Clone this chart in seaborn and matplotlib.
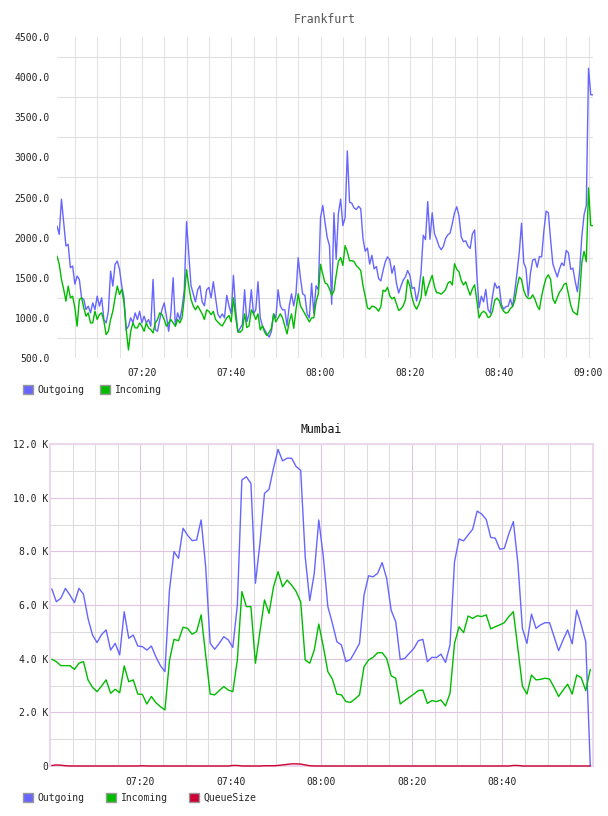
import pandas as pd
import matplotlib
matplotlib.use("Agg")
import matplotlib.pyplot as plt
import matplotlib.dates as mdates
from matplotlib.patches import Patch
from matplotlib.ticker import FixedLocator, FuncFormatter
import seaborn as sns

# Frankfurt: one sample every 30 s starting 07:01
fra_outgoing = [
    2146, 2040, 2479, 2190, 1896, 1917, 1625, 1646, 1420, 1521,
    1479, 1250, 1229, 1104, 1146, 1062, 1187, 1104, 1271, 1146,
    1250, 979, 937, 1083, 1583, 1396, 1667, 1708, 1604, 1396,
    1250, 854, 896, 1000, 940, 1062, 979, 1083, 937, 1021,
    937, 979, 896, 1479, 854, 833, 979, 1104, 1187, 1021,
    833, 1062, 1500, 896, 1062, 979, 1125, 1350, 2200, 1800,
    1400, 1300, 1200, 1350, 1400, 1200, 1150, 1350, 1380, 1250,
    1450, 1250, 1050, 1000, 1050, 1000, 1280, 1150, 1050, 1530,
    1100, 820, 870, 920, 1350, 950, 1050, 1350, 1050, 1100,
    1450, 1000, 900, 850, 800, 760, 830, 1050, 1000, 1350,
    1150, 1100, 1100, 900, 1150, 1300, 1150, 1300, 1750, 1500,
    1300, 1280, 1050, 1000, 1430, 1050, 1400, 1350,
    2250, 2400, 2190, 2000, 1900, 1170, 2310, 1730, 2300, 2480,
    2150, 2250, 3080, 2440, 2430, 2370, 2350, 2390, 2360, 1990,
    1830, 1870, 1670, 1780, 1610, 1640, 1490, 1460, 1590, 1700,
    1760, 1725, 1555, 1650, 1430, 1310, 1395, 1470, 1510, 1590,
    1530, 1365, 1380, 1210, 1335, 1565, 2030, 1975, 2450, 1980,
    2310, 2050, 1980, 1895, 1850, 1890, 1990, 2035, 2055, 2175,
    2310, 2385, 2270, 2010, 1950, 1960, 1895, 1865, 2045, 2095,
    1530, 1125, 1270, 1200, 1355, 1105, 1060, 1270, 1435, 1370,
    1395, 1165, 1110, 1140, 1145, 1235, 1140, 1340, 1565, 1820,
    2180, 1685, 1615, 1270, 1560, 1720, 1735, 1630, 1765, 1760,
    2080, 2330, 2310, 1980, 1675, 1590, 1510, 1610, 1685, 1650,
    1840, 1810, 1605, 1620, 1460, 1325, 1580, 2015, 2285, 2400,
    4110, 3780, 3780,
]
fra_incoming = [
    1771, 1667, 1479, 1354, 1208, 1396, 1250, 1270, 1125, 896,
    1229, 1250, 1125, 1021, 1062, 937, 937, 1083, 979, 1042,
    1062, 958, 792, 833, 979, 1083, 1250, 1396, 1292, 1354,
    1187, 850, 600, 833, 937, 875, 875, 937, 896, 833,
    937, 875, 854, 812, 937, 979, 1062, 1042, 979, 896,
    937, 979, 937, 896, 979, 937, 1000, 1250, 1600, 1400,
    1230, 1150, 1100, 1150, 1100, 1050, 980, 1100, 1080, 1040,
    1080, 980, 950, 920, 900, 950, 1000, 1030, 950, 1250,
    1000, 830, 820, 850, 1050, 880, 900, 1100, 1050, 980,
    1050, 850, 900, 820, 780, 820, 870, 1050, 950, 1000,
    1050, 1000, 900, 800, 950, 1050, 870, 1100, 1300, 1150,
    1100, 1050, 1000, 950, 1000, 1000, 1200, 1300,
    1667, 1545, 1437, 1420, 1362, 1283, 1333, 1530, 1704, 1750,
    1654, 1900, 1825, 1712, 1712, 1704, 1650, 1625, 1590, 1405,
    1271, 1125, 1108, 1146, 1140, 1120, 1083, 1140, 1345, 1330,
    1380, 1275, 1237, 1258, 1175, 1092, 1112, 1150, 1225, 1475,
    1400, 1250, 1158, 1108, 1167, 1250, 1512, 1275, 1375, 1458,
    1530, 1390, 1312, 1312, 1295, 1320, 1354, 1430, 1455, 1410,
    1675, 1604, 1575, 1465, 1410, 1450, 1362, 1283, 1362, 1412,
    1215, 1000, 1058, 1083, 1062, 1004, 1017, 1083, 1220, 1246,
    1215, 1129, 1083, 1058, 1070, 1117, 1142, 1220, 1387, 1508,
    1479, 1342, 1271, 1242, 1242, 1287, 1233, 1150, 1104, 1271,
    1396, 1495, 1537, 1479, 1242, 1180, 1254, 1320, 1358, 1417,
    1433, 1300, 1162, 1079, 1058, 1037, 1279, 1690, 1830, 1700,
    2620, 2150, 2150,
]

# Mumbai: one sample per minute, values in thousands
mum_outgoing = [
    6.60, 6.12, 6.25, 6.62, 6.37, 6.09, 6.62, 6.40, 5.50, 4.88,
    4.60, 4.90, 5.07, 4.32, 4.57, 4.14, 5.75, 4.76, 4.88, 4.47,
    4.45, 4.32, 4.47, 4.07, 3.74, 3.52, 6.55, 7.99, 7.74, 8.86,
    8.60, 8.40, 8.42, 9.17, 7.43, 4.57, 4.35, 4.57, 4.82, 4.70,
    4.42, 6.00, 10.66, 10.78, 10.53, 6.81, 8.30, 10.16, 10.31, 11.10,
    11.80, 11.37, 11.47, 11.47, 11.16, 11.02, 7.80, 6.16, 7.18, 9.17,
    7.80, 5.94, 5.32, 4.63, 4.51, 3.89, 3.97, 4.26, 4.57, 6.37,
    7.09, 7.05, 7.18, 7.58, 6.99, 5.80, 5.38, 3.97, 4.01, 4.20,
    4.38, 4.67, 4.72, 3.89, 4.05, 4.04, 4.17, 3.86, 4.51, 7.62,
    8.46, 8.39, 8.61, 8.82, 9.50, 9.39, 9.19, 8.52, 8.49, 8.08,
    8.11, 8.65, 9.11, 7.56, 5.13, 4.57, 5.66, 5.13, 5.26, 5.34,
    5.34, 4.82, 4.30, 4.70, 5.07, 4.55, 5.81, 5.26, 4.63, 0.00,
]
mum_incoming = [
    3.98, 3.89, 3.74, 3.74, 3.74, 3.60, 3.83, 3.89, 3.21, 2.93,
    2.77, 2.98, 3.21, 2.71, 2.86, 2.73, 3.73, 3.14, 3.21, 2.68,
    2.67, 2.31, 2.59, 2.36, 2.21, 2.09, 3.93, 4.72, 4.67, 5.17,
    5.13, 4.91, 5.01, 5.63, 4.14, 2.68, 2.65, 2.81, 2.96, 2.83,
    2.77, 3.95, 6.50, 5.94, 5.94, 3.83, 5.01, 6.19, 5.69, 6.68,
    7.24, 6.68, 6.93, 6.74, 6.50, 6.12, 3.95, 3.83, 4.32, 5.29,
    4.45, 3.52, 3.24, 2.68, 2.65, 2.40, 2.37, 2.50, 2.65, 3.70,
    3.95, 4.05, 4.22, 4.22, 4.01, 3.36, 3.27, 2.31, 2.44, 2.56,
    2.68, 2.81, 2.83, 2.33, 2.44, 2.40, 2.46, 2.24, 2.71, 4.57,
    5.19, 4.97, 5.59, 5.50, 5.60, 5.57, 5.63, 5.11, 5.19, 5.26,
    5.34, 5.57, 5.75, 4.38, 2.98, 2.68, 3.39, 3.21, 3.23, 3.27,
    3.24, 2.93, 2.59, 2.83, 3.05, 2.68, 3.39, 3.29, 2.81, 3.60,
]
mum_queue = [
    0.02, 0.04, 0.03, 0.01, 0.00, 0.00, 0.00, 0.00, 0.00, 0.00,
    0.00, 0.00, 0.00, 0.00, 0.00, 0.00, 0.00, 0.00, 0.00, 0.00,
    0.01, 0.00, 0.00, 0.00, 0.00, 0.00, 0.00, 0.00, 0.00, 0.00,
    0.00, 0.00, 0.00, 0.00, 0.00, 0.00, 0.00, 0.00, 0.00, 0.00,
    0.02, 0.02, 0.00, 0.00, 0.00, 0.00, 0.00, 0.01, 0.01, 0.01,
    0.02, 0.04, 0.06, 0.08, 0.08, 0.07, 0.04, 0.01, 0.00, 0.00,
    0.00, 0.00, 0.00, 0.00, 0.00, 0.00, 0.00, 0.00, 0.00, 0.00,
    0.00, 0.00, 0.00, 0.00, 0.00, 0.00, 0.00, 0.00, 0.00, 0.00,
    0.00, 0.00, 0.00, 0.00, 0.00, 0.00, 0.00, 0.00, 0.00, 0.00,
    0.00, 0.00, 0.00, 0.00, 0.00, 0.00, 0.00, 0.00, 0.00, 0.00,
    0.00, 0.00, 0.02, 0.02, 0.00, 0.00, 0.00, 0.00, 0.00, 0.00,
    0.00, 0.00, 0.00, 0.00, 0.00, 0.00, 0.00, 0.00, 0.00, 0.00,
]

day = "2015-06-01"
fra_time = pd.date_range(f"{day} 07:01:00", periods=len(fra_outgoing), freq="30s")
mum_time = pd.date_range(f"{day} 07:00:24", periods=len(mum_outgoing), freq="60s")

colors = {"Outgoing": "#6666ff", "Incoming": "#00bb00", "QueueSize": "#cc0033"}

fra = pd.DataFrame({"time": fra_time, "Outgoing": fra_outgoing, "Incoming": fra_incoming})
fra = fra.melt("time", var_name="series", value_name="value")
mum = pd.DataFrame({"time": mum_time, "Outgoing": mum_outgoing,
                    "Incoming": mum_incoming, "QueueSize": mum_queue})
mum = mum.melt("time", var_name="series", value_name="value")

sns.set_style("white")
plt.rcParams["font.family"] = ["DejaVu Sans Mono"]

fig = plt.figure(figsize=(6.08, 8.16), dpi=100)
ax1 = fig.add_axes([57 / 608, 1 - 358 / 816, 536 / 608, 321 / 816])
ax2 = fig.add_axes([50 / 608, 1 - 766 / 816, 543 / 608, 322 / 816])


def t(hm):
    return mdates.date2num(pd.Timestamp(f"{day} {hm}"))


# ---- Frankfurt ----
sns.lineplot(data=fra, x="time", y="value", hue="series", palette=colors,
             estimator=None, legend=False, lw=1.0, ax=ax1, zorder=3)
ax1.set_xlim(t("07:01"), t("09:01"))
ax1.set_ylim(500, 4500)
ax1.set_yticks(range(500, 4501, 500))
ax1.yaxis.set_minor_locator(FixedLocator(range(750, 4500, 500)))
ax1.yaxis.set_major_formatter(FuncFormatter(lambda v, p: f"{v:.1f}"))
ax1.xaxis.set_major_locator(mdates.MinuteLocator(byminute=[0, 20, 40]))
ax1.xaxis.set_minor_locator(mdates.MinuteLocator(byminute=range(0, 60, 5)))
ax1.xaxis.set_major_formatter(mdates.DateFormatter("%H:%M"))
ax1.grid(False)
ax1.grid(which="minor", axis="y", color="#dedede", lw=0.75)
ax1.grid(which="both", axis="x", color="#e2e2e2", lw=0.75)
for s in ax1.spines.values():
    s.set_visible(False)
ax1.tick_params(which="both", length=0, labelsize=7, colors="#222222")
ax1.tick_params(axis="y", pad=5)
ax1.tick_params(axis="x", pad=7)
ax1.set_xlabel("")
ax1.set_ylabel("")
ax1.set_axisbelow(True)
ax1.set_title("Frankfurt", fontsize=8.3, color="#555555", pad=10)

# ---- Mumbai ----
sns.lineplot(data=mum, x="time", y="value", hue="series", palette=colors,
             estimator=None, legend=False, lw=1.0, ax=ax2, zorder=3)
for ln in ax2.get_lines():
    ln.set_clip_on(False)
ax2.set_xlim(t("07:00"), t("09:00"))
ax2.set_ylim(0, 12)
ax2.set_yticks(range(0, 13, 2))
ax2.yaxis.set_minor_locator(FixedLocator(range(1, 12, 2)))
ax2.yaxis.set_major_formatter(FuncFormatter(lambda v, p: "0" if v == 0 else f"{v:.1f} K"))
ax2.xaxis.set_major_locator(FixedLocator([t(h) for h in ["07:20", "07:40", "08:00", "08:20", "08:40"]]))
ax2.xaxis.set_minor_locator(FixedLocator([t(f"{7 + m // 60:02d}:{m % 60:02d}") for m in range(5, 120, 5)]))
ax2.xaxis.set_major_formatter(mdates.DateFormatter("%H:%M"))
ax2.grid(False)
ax2.grid(which="major", axis="both", color="#e0c4e0", lw=0.8)
ax2.grid(which="minor", axis="both", color="#dcdcdc", lw=0.75)
for s in ax2.spines.values():
    s.set_color("#ecd8ec")
    s.set_linewidth(1.5)
ax2.tick_params(which="both", length=0, labelsize=7, colors="#222222")
ax2.tick_params(axis="y", pad=1)
ax2.tick_params(axis="x", pad=8)
ax2.set_xlabel("")
ax2.set_ylabel("")
ax2.set_axisbelow(True)
ax2.set_title("Mumbai", fontsize=8.3, color="#111111", pad=8)

# ---- legends ----
def legend(ax, names, y, spacing):
    handles = [Patch(facecolor=colors[n], edgecolor="#999999", lw=1.0, label=n) for n in names]
    ax.legend(handles=handles, loc="upper left", bbox_to_anchor=(23 / 608, 1 - y / 816),
              bbox_transform=fig.transFigure, ncol=len(names), frameon=False,
              fontsize=7, handlelength=1.0, handleheight=1.0, handletextpad=0.5,
              columnspacing=spacing, borderpad=0, borderaxespad=0)


legend(ax1, ["Outgoing", "Incoming"], 385, 1.6)
legend(ax2, ["Outgoing", "Incoming", "QueueSize"], 793, 2.2)

fig.savefig("out.png", dpi=100)
